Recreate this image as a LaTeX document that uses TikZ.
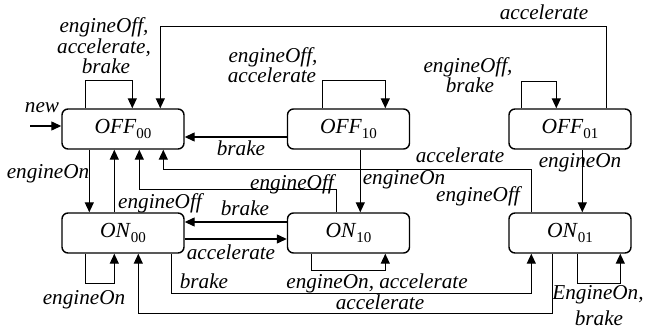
\documentclass[tikz,border=0pt]{standalone}
\usepackage{fontspec}
\setmainfont{Liberation Serif}
\usetikzlibrary{arrows.meta}

% state name: italic letters with an upright, lowered index
\newcommand\stname[2]{\textit{#1}\raisebox{-4.8pt}{\fontsize{15}{15}\selectfont #2}}

\begin{document}
\begin{tikzpicture}[x=1pt,y=-1pt,
  font=\fontsize{21.2}{23}\selectfont\itshape,
  state/.style={draw, line width=1.4pt, rounded corners=6pt,
    minimum width=122pt, minimum height=40pt, inner sep=0pt,
    font=\fontsize{21.5}{23}\selectfont},
  lbl/.style={inner sep=0pt, anchor=base},
  arr/.style={line width=1.3pt, -{Triangle[length=10pt,width=9pt]}}]

\useasboundingbox (0,0) rectangle (645,331);

% states
\node[state] (OFF00) at (123,129)   {\stname{OFF}{00}};
\node[state] (OFF10) at (348.5,129) {\stname{OFF}{10}};
\node[state] (OFF01) at (570,129)   {\stname{OFF}{01}};
\node[state] (ON00)  at (123,233)   {\stname{ON}{00}};
\node[state] (ON10)  at (348.5,233) {\stname{ON}{10}};
\node[state] (ON01)  at (570,233)   {\stname{ON}{01}};

% initial transition
\coordinate (init) at (30,126);
\draw[arr] (init) -- (init -| OFF00.west);
\node[lbl] (lnew) at (42,113) {new};

% self loops on the OFF states
\draw[arr] ([xshift=24pt]OFF00.north west) -- ++(0,-28) -| ([xshift=71pt]OFF00.north west);
\draw[arr] ([xshift=35.5pt]OFF10.north west) -- ++(0,-28) -| ([xshift=98.5pt]OFF10.north west);
\draw[arr] ([xshift=13pt]OFF01.north west) -- ++(0,-27) -| ([xshift=48pt]OFF01.north west);

% OFF01 -> OFF00 over the top
\draw[arr] ([xshift=98pt]OFF01.north west) -- ++(0,-82) -| ([xshift=99pt]OFF00.north west);

% OFF10 -> OFF00
\draw[arr] ([yshift=-8pt]OFF10.west) -- ([yshift=-8pt]OFF00.east);

% OFF -> ON
\draw[arr] ([xshift=28pt]OFF00.south west) -- ([xshift=28pt]ON00.north west);
\draw[arr] ([xshift=73.5pt]OFF10.south west) -- ([xshift=73.5pt]ON10.north west);
\draw[arr] ([xshift=74pt]OFF01.south west) -- ([xshift=74pt]ON01.north west);

% ON -> OFF00
\draw[arr] ([xshift=53pt]ON00.north west) -- ([xshift=53pt]OFF00.south west);
\draw[arr] ([xshift=49.5pt]ON10.north west) -- ++(0,-23) -| ([xshift=78pt]OFF00.south west);
\draw[arr] ([xshift=23pt]ON01.north west) -- ++(0,-43) -| ([xshift=102pt]OFF00.south west);

% between ON00 and ON10
\draw[arr] ([yshift=11pt]ON10.west) -- ([yshift=11pt]ON00.east);
\draw[arr] ([yshift=-6pt]ON00.east) -- ([yshift=-6pt]ON10.west);

% self loops on the ON states
\draw[arr] ([xshift=24pt]ON00.south west) -- ++(0,30) -| ([xshift=53pt]ON00.south west);
\draw[arr] ([xshift=24.5pt]ON10.south west) -- ++(0,17) -| ([xshift=98.5pt]ON10.south west);
\draw[arr] ([xshift=69pt]ON01.south west) -- ++(0,30) -| ([xshift=112pt]ON01.south west);

% between ON00 and ON01 below
\draw[arr] ([xshift=110pt]ON00.south west) -- ++(0,40) -| ([xshift=23pt]ON01.south west);
\draw[arr] ([xshift=44pt]ON01.south west) -- ++(0,60) -| ([xshift=77pt]ON00.south west);

% transition labels
\node[lbl] (l1a) at (104,33) {engineOff,};
\node[lbl] (l1b) at (104,54) {accelerate,};
\node[lbl] (l1c) at (106,74) {brake};
\node[lbl] (l2)  at (544,20) {accelerate};
\node[lbl] (l3a) at (273,63) {engineOff,};
\node[lbl] (l3b) at (272,83) {accelerate};
\node[lbl] (l4a) at (468,73) {engineOff,};
\node[lbl] (l4b) at (470,93) {brake};
\node[lbl] (l5)  at (241,156) {brake};
\node[lbl] (l6)  at (48,179) {engineOn};
\node[lbl] (l7)  at (160,209) {engineOff};
\node[lbl] (l8)  at (292,190) {engineOff};
\node[lbl] (l9)  at (404,185) {engineOn};
\node[lbl] (l10) at (460,163) {accelerate};
\node[lbl] (l11) at (580,168) {engineOn};
\node[lbl] (l12) at (478,201) {engineOff};
\node[lbl] (l13) at (245,215) {brake};
\node[lbl] (l14) at (231,259) {accelerate};
\node[lbl] (l15) at (84,304) {engineOn};
\node[lbl] (l16) at (204,288) {brake};
\node[lbl] (l17) at (377,288) {engineOn, accelerate};
\node[lbl] (l18) at (380,309) {accelerate};
\node[lbl] (l19a) at (598,299) {EngineOn,};
\node[lbl] (l19b) at (599,325) {brake};
\end{tikzpicture}
\end{document}
